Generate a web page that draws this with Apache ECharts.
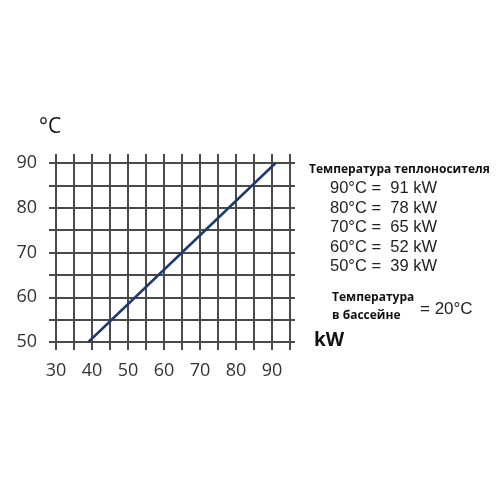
<!DOCTYPE html>
<html><head><meta charset="utf-8">
<script src="https://cdn.jsdelivr.net/npm/echarts@6/dist/echarts.min.js"></script>
<style>html,body{margin:0;padding:0;background:#fff}#c{width:500px;height:500px}</style>
</head><body><div id="c"></div>
<script>
const powerKW = [39, 52, 65, 78, 91];
const tempC = [50, 60, 70, 80, 90];
const xTicks = [30, 40, 50, 60, 70, 80, 90];
const yTicks = [50, 60, 70, 80, 90];
const legendTitle = 'Температура теплоносителя';
const legendRows = ['90°C =  91 kW', '80°C =  78 kW', '70°C =  65 kW', '60°C =  52 kW', '50°C =  39 kW'];
const poolLabel = ['Температура', 'в бассейне'];
const poolValue = '= 20°C';

const gridColor = '#4a4a4a';
const chart = echarts.init(document.getElementById('c'));
const legendGraphics = [
  {type:'text', left:309, top:164, style:{text:legendTitle, font:'bold 12px "Open Sans"', fill:'#111'}}
];
legendRows.forEach((t,i)=>{
  legendGraphics.push({type:'text', left:330, top:180 + i*19.6, style:{text:t, font:'16.5px "Liberation Sans"', fill:'#222'}});
});
legendGraphics.push({type:'text', left:332, top:292, style:{text:poolLabel[0], font:'bold 12px "Open Sans"', fill:'#111'}});
legendGraphics.push({type:'text', left:332, top:310, style:{text:poolLabel[1], font:'bold 12px "Open Sans"', fill:'#111'}});
legendGraphics.push({type:'text', left:420, top:301, style:{text:poolValue, font:'17px "Liberation Sans"', fill:'#222'}});
legendGraphics.push({type:'text', left:39, top:117, style:{text:'°C', font:'21px "Open Sans"', fill:'#111'}});
legendGraphics.push({type:'text', left:314, top:331, style:{text:'kW', font:'bold 19px "Open Sans"', fill:'#111'}});

chart.setOption({
  animation:false,
  backgroundColor:'#fff',
  graphic: legendGraphics,
  grid:[
    {left:56, top:154, width:234, height:196},
    {left:49, top:163, width:246, height:179}
  ],
  xAxis:[
    {gridIndex:0, type:'value', min:30, max:95, interval:5,
     axisLine:{show:false}, axisTick:{show:false},
     axisLabel:{margin:12, fontFamily:'Open Sans', fontSize:18, color:'#333',
       formatter:v=> xTicks.includes(v) ? String(v) : ''},
     splitLine:{show:true, lineStyle:{color:gridColor, width:2}}},
    {gridIndex:1, type:'value', min:30 - 7/3.6, max:30 - 7/3.6 + 246/3.6,
     show:false, splitLine:{show:false}}
  ],
  yAxis:[
    {gridIndex:0, type:'value', show:false, min:0, max:1, splitLine:{show:false}},
    {gridIndex:1, type:'value', min:50, max:90, interval:5,
     axisLine:{show:false}, axisTick:{show:false},
     axisLabel:{margin:12, fontFamily:'Open Sans', fontSize:18, color:'#333',
       formatter:v=> yTicks.includes(v) ? String(v) : ''},
     splitLine:{show:true, lineStyle:{color:gridColor, width:2}}}
  ],
  series:[{
    type:'line', xAxisIndex:1, yAxisIndex:1,
    data: powerKW.map((x,i)=>[x, tempC[i]]),
    symbol:'none', lineStyle:{color:'#1f3a6e', width:2.5}
  }]
});
</script></body></html>
